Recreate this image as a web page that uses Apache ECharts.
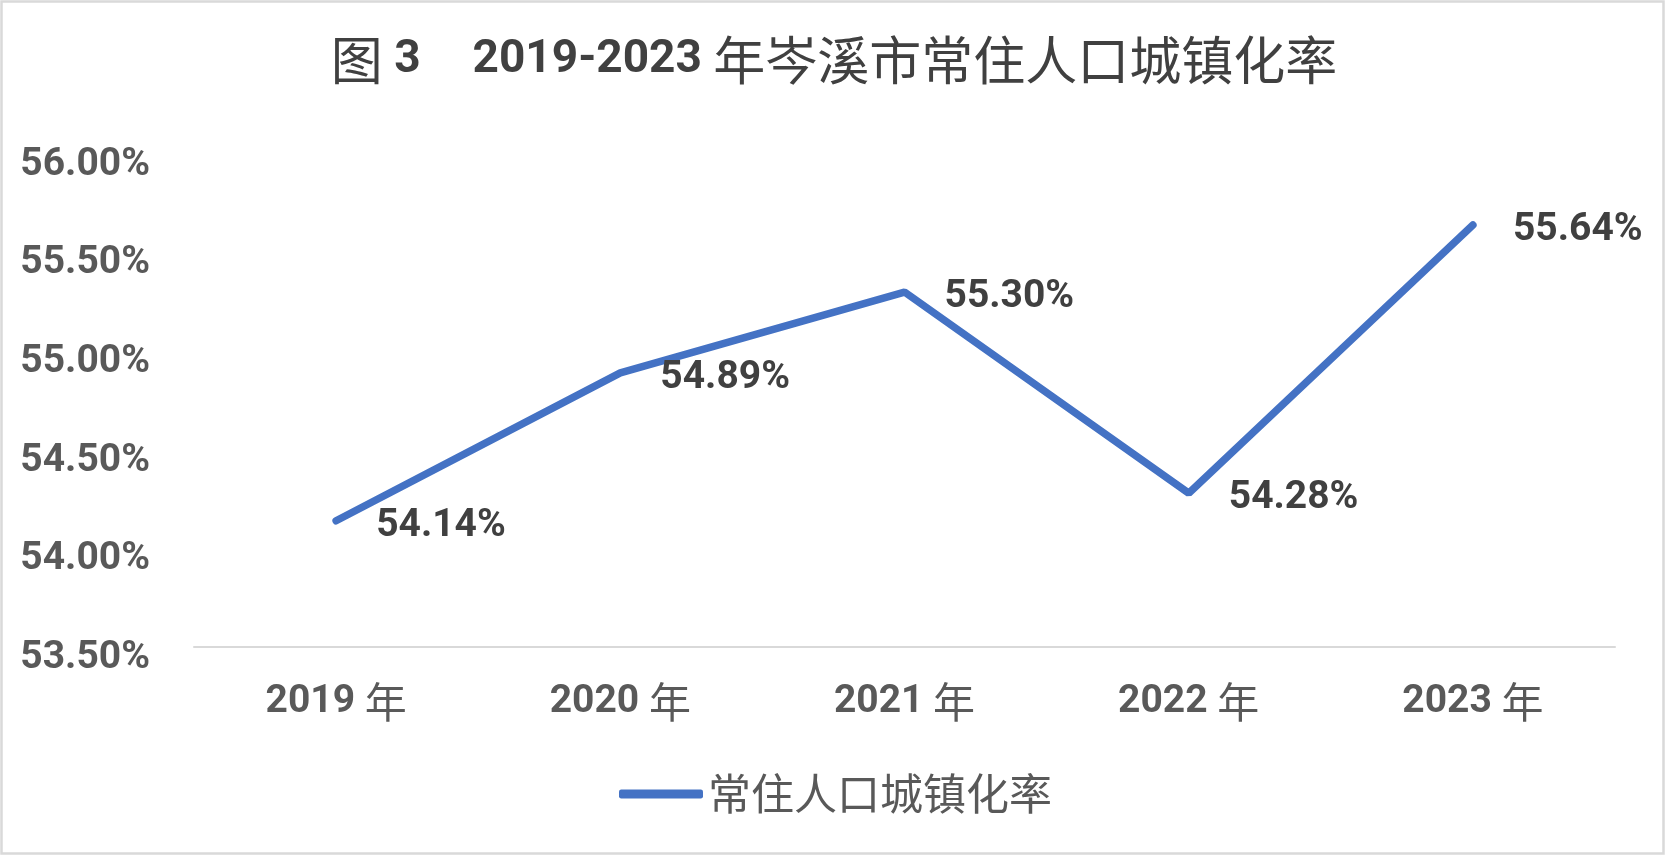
<!DOCTYPE html>
<html>
<head>
<meta charset="utf-8">
<script src="https://cdn.jsdelivr.net/npm/echarts@6/dist/echarts.min.js"></script>
<style>
html,body{margin:0;padding:0;background:#fff;}
#main{width:1668px;height:858px;}
</style>
</head>
<body>
<div id="main"></div>
<script>
var categories = ['2019 年', '2020 年', '2021 年', '2022 年', '2023 年'];
var seriesName = '常住人口城镇化率';
var values = [54.14, 54.89, 55.30, 54.28, 55.64];
var yTicks = { min: 53.5, max: 56, interval: 0.5 };
var titleYears = '2019-2023';

var NUM = 'Roboto, "Noto Sans", sans-serif';
var CJK = '"Noto Sans CJK SC", sans-serif';

var chart = echarts.init(document.getElementById('main'));
chart.setOption({
  backgroundColor: '#ffffff',
  animation: false,
  graphic: [{
    type: 'rect',
    shape: { x: 1.5, y: 1.5, width: 1662, height: 852 },
    style: { fill: 'none', stroke: '#d9d9d9', lineWidth: 2.5 },
    silent: true
  }],
  title: {
    left: 'center',
    top: 25,
    text: '{c|图}{n| 3}{c|\u3000}{n|' + titleYears + '}{n| }{c|年岑溪市常住人口城镇化率}',
    textStyle: {
      rich: {
        c: { fontFamily: CJK, fontSize: 52, fontWeight: 'normal', color: '#404040', lineHeight: 60 },
        n: { fontFamily: NUM, fontSize: 46, fontWeight: 'bold', color: '#404040', lineHeight: 60 }
      }
    }
  },
  legend: {
    left: 619,
    top: 769,
    padding: 0,
    icon: 'roundRect',
    itemWidth: 84,
    itemHeight: 9,
    data: [seriesName],
    textStyle: { fontFamily: CJK, fontSize: 43, color: '#595959', lineHeight: 50 }
  },
  grid: { left: 194, right: 53, top: 154, bottom: 211, containLabel: false },
  xAxis: {
    type: 'category',
    data: categories,
    boundaryGap: true,
    axisLine: { show: true, lineStyle: { color: '#d9d9d9', width: 2 } },
    axisTick: { show: false },
    splitLine: { show: false },
    axisLabel: {
      margin: 33,
      formatter: function (v) {
        var p = v.split(' ');
        return '{n|' + p[0] + '}{n| }{c|' + p[1] + '}';
      },
      rich: {
        n: { fontFamily: NUM, fontSize: 39, fontWeight: 'bold', color: '#595959', lineHeight: 44 },
        c: { fontFamily: CJK, fontSize: 42, fontWeight: 'normal', color: '#595959', lineHeight: 44 }
      }
    }
  },
  yAxis: {
    type: 'value',
    min: yTicks.min,
    max: yTicks.max,
    interval: yTicks.interval,
    axisLine: { show: false },
    axisTick: { show: false },
    splitLine: { show: false },
    axisLabel: {
      margin: 44,
      fontFamily: NUM,
      fontSize: 39,
      fontWeight: 'bold',
      color: '#595959',
      verticalAlign: 'top',
      lineHeight: 22,
      formatter: function (v) { return v.toFixed(2) + '%'; }
    }
  },
  series: [{
    name: seriesName,
    type: 'line',
    data: values,
    symbol: 'circle',
    symbolSize: 0.1,
    showSymbol: true,
    itemStyle: { color: '#4472C4' },
    lineStyle: { color: '#4472C4', width: 7.5, cap: 'round' },
    label: {
      show: true,
      position: 'right',
      distance: 40,
      offset: [0, 5],
      fontFamily: NUM,
      fontSize: 39,
      fontWeight: 'bold',
      color: '#404040',
      formatter: function (p) { return p.value.toFixed(2) + '%'; }
    }
  }]
});
</script>
</body>
</html>
